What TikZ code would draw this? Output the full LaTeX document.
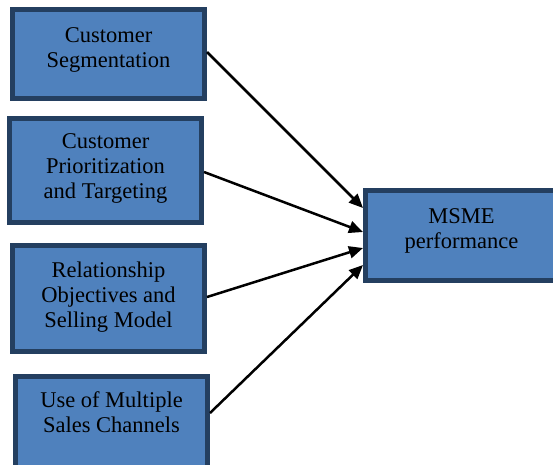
\documentclass[tikz,border=0pt]{standalone}
\usepackage{fontspec}
\setmainfont{Liberation Serif}
\usetikzlibrary{arrows.meta}
\definecolor{boxfill}{HTML}{4F81BD}
\definecolor{boxline}{HTML}{243F60}
\tikzset{
  box/.style={draw=boxline, fill=boxfill, line width=5pt, rectangle, inner sep=0pt},
  lbl/.style={anchor=base, inner sep=0pt, font=\fontsize{22.5}{25}\selectfont},
  conn/.style={line width=2.5pt, -{Triangle[length=14pt,width=12pt]}}
}
\newcommand{\lines}[1]{\begin{tabular}[t]{@{}c@{}}#1\end{tabular}}
\begin{document}
\begin{tikzpicture}[x=1pt,y=-1pt]
\clip (0,0) rectangle (553,464);
\fill[white] (0,0) rectangle (553,464);
\node[box, minimum width=192pt, minimum height=89pt] (b1) at (108.5,54) {};
\node[box, minimum width=192pt, minimum height=104pt] (b2) at (105.5,170.5) {};
\node[box, minimum width=192pt, minimum height=106pt] (b3) at (108.5,298.5) {};
\node[box, minimum width=192pt, minimum height=91pt] (b4) at (111.5,422) {};
\node[box, minimum width=192pt, minimum height=90pt] (m) at (461.5,235.5) {};
\node[lbl] (t1) at (108.5,42) {\lines{Customer\\Segmentation}};
\node[lbl] (t2) at (105.5,148) {\lines{Customer\\Prioritization\\and Targeting}};
\node[lbl] (t3) at (108.5,277) {\lines{Relationship\\Objectives and\\Selling Model}};
\node[lbl] (t4) at (111.5,407) {\lines{Use of Multiple\\Sales Channels}};
\node[lbl] (tm) at (461.5,223) {\lines{MSME\\performance}};
\coordinate (s1) at ([yshift=2pt]b1.east);
\coordinate (s2) at ([yshift=-1.5pt]b2.east);
\coordinate (s3) at ([yshift=1.5pt]b3.east);
\coordinate (s4) at ([yshift=9pt]b4.east);
\coordinate (e1) at ([yshift=27.5pt]m.west);
\coordinate (e2) at ([yshift=3.5pt]m.west);
\coordinate (e3) at ([yshift=-12.5pt]m.west);
\coordinate (e4) at ([yshift=-29.5pt]m.west);
\draw[conn] (s1) -- (e1);
\draw[conn] (s2) -- (e2);
\draw[conn] (s3) -- (e3);
\draw[conn] (s4) -- (e4);
\end{tikzpicture}
\end{document}
